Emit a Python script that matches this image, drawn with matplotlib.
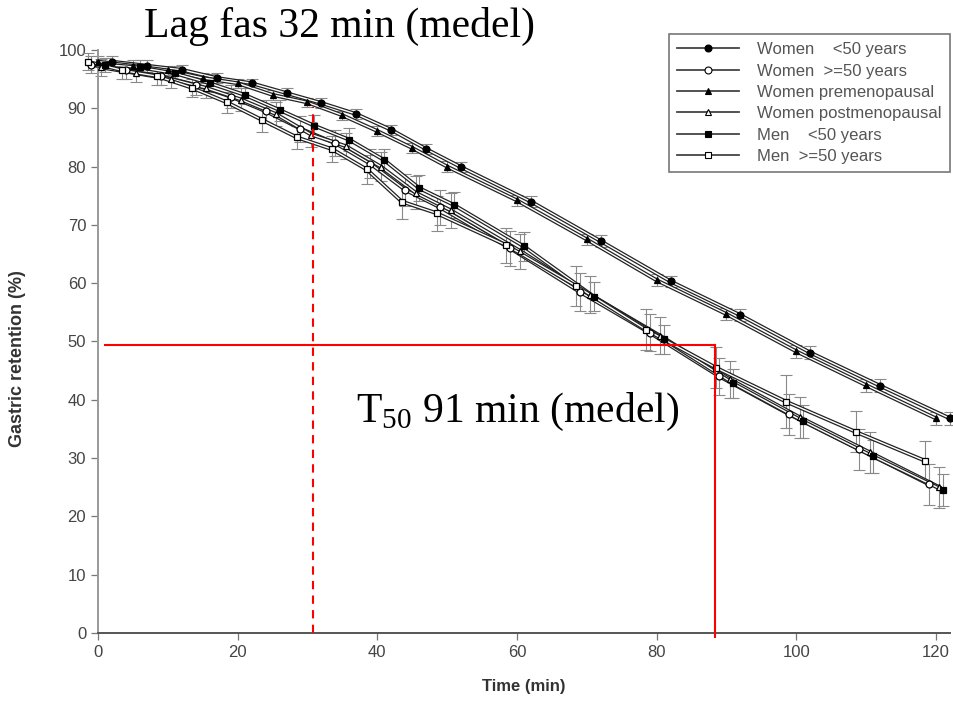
import numpy as np
import matplotlib
matplotlib.use("Agg")
import matplotlib.pyplot as plt
import matplotlib.patheffects as pe
from matplotlib.lines import Line2D

plt.rcParams.update({
    "font.family": "Liberation Sans",
    "mathtext.fontset": "custom",
    "mathtext.rm": "Liberation Serif",
    "axes.spines.top": False,
    "axes.spines.right": False,
})

# sampling times (min)
times = [0, 5, 10, 15, 20, 25, 30, 35, 40, 45, 50, 60, 70, 80, 90, 100, 110, 120]

# gastric retention (%), mean and error per group
women_u50 = [98.0, 97.3, 96.6, 95.2, 94.3, 92.6, 90.9, 89.0, 86.3, 83.0, 79.9, 74.0, 67.2, 60.3, 54.5, 48.1, 42.4, 36.8]
women_u50_err = [1.0, 1.0, 0.8, 0.8, 0.8, 0.8, 0.8, 0.8, 0.9, 0.9, 0.9, 1.0, 1.0, 1.0, 1.0, 1.1, 1.1, 1.1]
women_o50 = [97.5, 96.5, 95.5, 94.0, 92.0, 89.5, 86.5, 84.0, 80.5, 76.0, 73.0, 66.0, 58.5, 51.5, 44.0, 37.5, 31.5, 25.5]
women_o50_err = [1.5, 1.5, 1.5, 1.8, 2.0, 2.0, 2.2, 2.2, 2.5, 2.8, 3.0, 3.0, 3.2, 3.2, 3.2, 3.5, 3.5, 3.5]
women_pre = [98.0, 97.3, 96.5, 95.2, 94.3, 92.3, 91.0, 88.8, 86.1, 83.2, 80.0, 74.2, 67.5, 60.5, 54.7, 48.3, 42.5, 36.8]
women_pre_err = [1.0, 1.0, 0.8, 0.8, 0.8, 0.8, 0.8, 0.8, 0.9, 0.9, 0.9, 1.0, 1.0, 1.0, 1.0, 1.1, 1.1, 1.1]
women_post = [97.0, 96.0, 95.0, 93.5, 91.5, 89.0, 85.5, 83.5, 80.0, 75.5, 72.5, 65.5, 58.0, 51.0, 43.5, 37.0, 31.0, 25.0]
women_post_err = [1.5, 1.5, 1.5, 1.8, 2.0, 2.0, 2.2, 2.2, 2.5, 2.8, 3.0, 3.0, 3.2, 3.2, 3.2, 3.5, 3.5, 3.5]
men_u50 = [97.5, 97.0, 96.0, 94.3, 92.3, 89.7, 87.0, 84.6, 81.1, 76.3, 73.4, 66.3, 57.7, 50.4, 42.8, 36.3, 30.3, 24.5]
men_u50_err = [1.2, 1.2, 1.2, 1.5, 1.5, 1.8, 1.8, 2.0, 2.0, 2.2, 2.2, 2.5, 2.5, 2.5, 2.5, 2.8, 2.8, 2.8]
men_o50 = [98.0, 96.5, 95.5, 93.5, 91.0, 88.0, 85.0, 83.0, 79.5, 74.0, 72.0, 66.5, 59.5, 52.0, 45.5, 39.7, 34.5, 29.5]
men_o50_err = [1.5, 1.5, 1.5, 1.5, 1.8, 2.0, 2.0, 2.2, 2.5, 3.0, 3.0, 3.0, 3.5, 3.5, 3.5, 4.5, 3.5, 3.5]

labels = ["Women    <50 years", "Women  >=50 years", "Women premenopausal",
          "Women postmenopausal", "Men    <50 years", "Men  >=50 years"]

# annotation values
lag_time, lag_level = 30.8, 90.3
t50_time, t50_level = 88.3, 49.4

series = [
    (women_u50, women_u50_err, dict(marker="o", mfc="black", dx=2.0)),
    (women_o50, women_o50_err, dict(marker="o", mfc="white", dx=-1.0)),
    (women_pre, women_pre_err, dict(marker="^", mfc="black", dx=0.0)),
    (women_post, women_post_err, dict(marker="^", mfc="white", dx=0.5)),
    (men_u50, men_u50_err, dict(marker="s", mfc="black", dx=1.0)),
    (men_o50, men_o50_err, dict(marker="s", mfc="white", dx=-1.5)),
]

fig = plt.figure(figsize=(9.54, 7.10), dpi=100)
ax = fig.add_axes([0.1027, 0.1085, 0.893, 0.8211])

double = [pe.Stroke(linewidth=2.8, foreground="#222222"), pe.Stroke(linewidth=1.0, foreground="white")]
t = np.array(times, dtype=float)
handles = []
for (vals, err, st), lab in zip(series, labels):
    x = t + st["dx"]
    ax.errorbar(x, vals, yerr=err, fmt="none", ecolor="#8a8a8a", elinewidth=0.8,
                capsize=4.5, capthick=0.8, zorder=2, clip_on=False)
    ax.plot(x, vals, color="white", lw=1.0, zorder=3, path_effects=double, clip_on=False)
    ax.plot(x, vals, ls="none", marker=st["marker"], ms=5, mfc=st["mfc"], mec="black",
            mew=0.9, zorder=4, clip_on=False)
    handles.append(Line2D([0], [0], color="#444444", lw=1.3, marker=st["marker"], ms=5,
                          mfc=st["mfc"], mec="black", mew=0.8))

# red guide lines
ax.plot([lag_time, lag_time], [0, lag_level], color="red", lw=1.5, ls=(0, (4, 3)), zorder=5)
ax.plot([1, t50_time], [t50_level, t50_level], color="red", lw=1.5, zorder=5)
ax.plot([t50_time, t50_time], [t50_level, -0.7], color="red", lw=1.5, zorder=5, clip_on=False)

ax.set_xlim(0, 122)
ax.set_ylim(0, 100)
ax.set_xticks(range(0, 121, 20))
ax.set_yticks(range(0, 101, 10))
ax.tick_params(colors="#777777", labelcolor="#444444", labelsize=12, length=5, width=0.9)
ax.spines["left"].set_color("#999999")
ax.spines["left"].set_linewidth(1.4)
ax.spines["bottom"].set_color("#555555")
ax.spines["bottom"].set_linewidth(1.4)

ax.set_xlabel("Time (min)", fontsize=12, fontweight="bold", color="#333333", labelpad=14)
ax.set_ylabel("Gastric retention (%)", fontsize=13, fontweight="bold", color="#333333")
ax.yaxis.set_label_coords(-0.085, 0.47)

fig.text(0.356, 0.962, "Lag fas 32 min (medel)", family="Liberation Serif",
         fontsize=30, ha="center", va="center")
ax.text(0.493, 0.379, r"T$_{50}$ 91 min (medel)", transform=ax.transAxes,
        family="Liberation Serif", fontsize=30, ha="center", va="center")

leg = fig.legend(handles, labels, loc="upper left", bbox_to_anchor=(0.692, 0.964),
                 fontsize=12, frameon=True, fancybox=False, edgecolor="#555555",
                 handlelength=3.7, labelspacing=0.38, borderpad=0.5, handletextpad=1.1)
for txt in leg.get_texts():
    txt.set_color("#555555")
leg.get_frame().set_linewidth(1.2)

fig.savefig("out.png", dpi=100)
